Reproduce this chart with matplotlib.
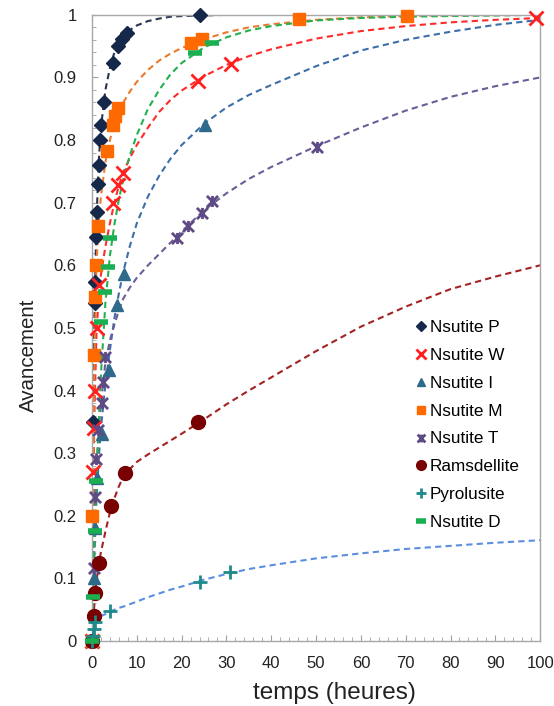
import numpy as np
import matplotlib
matplotlib.use('Agg')
import matplotlib.pyplot as plt
from matplotlib.path import Path
from matplotlib.ticker import MultipleLocator

plt.rcParams['font.family'] = ['Liberation Sans', 'DejaVu Sans']

# --- measured points (time in hours, conversion fraction) ---
p_t = [0, 0.3, 0.6, 0.75, 0.9, 1.1, 1.3, 1.5, 1.8, 2.0, 2.7, 4.7, 5.8, 6.7, 7.8, 24]
p_v = [0, 0.35, 0.54, 0.573, 0.645, 0.685, 0.73, 0.76, 0.80, 0.824, 0.861, 0.923, 0.95, 0.962, 0.971, 1.0]

w_t = [0, 0.2, 0.5, 0.7, 1.1, 1.5, 4.8, 5.9, 7.0, 23.7, 31, 99]
w_v = [0, 0.27, 0.34, 0.40, 0.50, 0.569, 0.70, 0.728, 0.747, 0.894, 0.922, 0.995]

i_t = [0, 0.4, 0.7, 1.1, 2.2, 3.8, 5.5, 7.2, 25.2]
i_v = [0, 0.10, 0.18, 0.26, 0.33, 0.433, 0.537, 0.586, 0.824]

m_t = [0, 0.1, 0.5, 0.6, 1.0, 1.4, 3.3, 4.8, 5.1, 5.9, 22.2, 24.5, 46.2, 70.3]
m_v = [0, 0.20, 0.457, 0.55, 0.60, 0.662, 0.782, 0.824, 0.838, 0.851, 0.955, 0.962, 0.993, 0.998]

t_t = [0, 0.4, 0.7, 1.0, 1.3, 2.2, 2.5, 2.9, 18.9, 21.5, 24.5, 26.7, 50.2]
t_v = [0, 0.117, 0.23, 0.29, 0.337, 0.38, 0.414, 0.454, 0.643, 0.662, 0.683, 0.702, 0.789]

r_t = [0, 0.4, 0.7, 1.5, 4.2, 7.4, 23.7]
r_v = [0, 0.04, 0.077, 0.124, 0.216, 0.268, 0.35]

py_t = [0, 0.2, 0.4, 0.6, 4.0, 24.1, 30.8]
py_v = [0, 0.008, 0.02, 0.03, 0.048, 0.095, 0.111]

d_t = [0, 0.3, 0.6, 1.0, 2.0, 2.9, 3.6, 4.0, 23, 26.7]
d_v = [0, 0.07, 0.175, 0.255, 0.51, 0.558, 0.598, 0.643, 0.939, 0.955]

# --- fitted trend curves on a common time grid ---
fit_t = [0, 0.5, 1, 1.5, 2, 3, 4, 5, 6, 7, 8.5, 10, 12.5, 15, 17.5, 20, 25, 30, 35, 40,
         50, 60, 70, 80, 90, 100]
p_fit = [0, 0.50, 0.67, 0.765, 0.82, 0.88, 0.915, 0.94, 0.955, 0.966, 0.976, 0.983, 0.99,
         0.994, 0.997, 0.998, 0.999, 1, 1, 1, 1, 1, 1, 1, 1, 1]
w_fit = [0, 0.35, 0.49, 0.55, 0.585, 0.63, 0.667, 0.70, 0.727, 0.749, 0.772, 0.792, 0.82,
         0.845, 0.864, 0.879, 0.902, 0.92, 0.934, 0.945, 0.962, 0.974, 0.982, 0.988, 0.992, 0.995]
i_fit = [0, 0.13, 0.225, 0.29, 0.34, 0.41, 0.465, 0.515, 0.555, 0.59, 0.632, 0.667, 0.71,
         0.743, 0.77, 0.792, 0.826, 0.852, 0.872, 0.888, 0.918, 0.943, 0.96, 0.973, 0.984, 0.992]
m_fit = [0, 0.42, 0.60, 0.67, 0.71, 0.765, 0.80, 0.826, 0.845, 0.86, 0.878, 0.893, 0.912,
         0.927, 0.938, 0.947, 0.961, 0.972, 0.98, 0.985, 0.992, 0.996, 0.998, 0.999, 0.9995, 1.0]
t_fit = [0, 0.19, 0.28, 0.335, 0.38, 0.445, 0.48, 0.505, 0.528, 0.547, 0.565, 0.58, 0.6,
         0.618, 0.636, 0.654, 0.688, 0.715, 0.738, 0.757, 0.79, 0.82, 0.847, 0.869, 0.886, 0.90]
r_fit = [0, 0.055, 0.095, 0.122, 0.142, 0.175, 0.205, 0.228, 0.247, 0.262, 0.275, 0.286, 0.298,
         0.309, 0.32, 0.331, 0.354, 0.378, 0.40, 0.421, 0.463, 0.502, 0.534, 0.562, 0.582, 0.60]
py_fit = [0.03, 0.033, 0.036, 0.038, 0.04, 0.043, 0.047, 0.05, 0.053, 0.055, 0.059, 0.063, 0.07,
          0.076, 0.082, 0.087, 0.098, 0.107, 0.115, 0.121, 0.132, 0.14, 0.147, 0.152, 0.157, 0.161]
d_fit = [0, 0.14, 0.25, 0.345, 0.425, 0.54, 0.615, 0.665, 0.705, 0.738, 0.777, 0.808, 0.85,
         0.88, 0.905, 0.923, 0.948, 0.964, 0.975, 0.982, 0.991, 0.995, 0.997, 0.998, 0.999, 1.0]

# Excel-like "star" marker: X with a vertical bar
star = Path([(-1, -1), (1, 1), (-1, 1), (1, -1), (0, -1), (0, 1)],
            [Path.MOVETO, Path.LINETO, Path.MOVETO, Path.LINETO, Path.MOVETO, Path.LINETO])

series = [
    ('Nsutite P', p_t, p_v, p_fit, dict(marker='D', color='#16284a', ms=7.5), '#2a3550'),
    ('Nsutite W', w_t, w_v, w_fit, dict(marker='x', color='#ff2020', ms=10, mew=2), '#ff2a2a'),
    ('Nsutite I', i_t, i_v, i_fit, dict(marker='^', color='#2e6b8a', ms=9), '#3d6ea8'),
    ('Nsutite M', m_t, m_v, m_fit, dict(marker='s', color='#ff6a00', ms=8), '#ea7a2e'),
    ('Nsutite T', t_t, t_v, t_fit, dict(marker=star, color='#5e4a85', ms=8, mew=2), '#6c5c98'),
    ('Ramsdellite', r_t, r_v, r_fit, dict(marker='o', color='#780000', ms=10), '#a32222'),
    ('Pyrolusite', py_t, py_v, py_fit, dict(marker='+', color='#1f8a8a', ms=10, mew=2), '#5b8ee0'),
    ('Nsutite D', d_t, d_v, d_fit, dict(marker='_', color='#1aaf50', ms=10, mew=4), '#22b050'),
]

fig = plt.figure(figsize=(5.54, 7.06), dpi=100)
ax = fig.add_axes([0.166, 0.092, 0.809, 0.887])

# dashed trend lines first, markers on top
for label, tx, vx, fit, mk, lc in series:
    ax.plot(fit_t, fit, linestyle=(0, (3, 2)), color=lc, lw=1.5, zorder=2)

for label, tx, vx, fit, mk, lc in series:
    ax.plot(tx, vx, linestyle='none', label=label, clip_on=False, zorder=3,
            marker=mk['marker'], color=mk['color'], markersize=mk['ms'],
            markeredgewidth=mk.get('mew', 1))

ax.set_xlim(0, 100)
ax.set_ylim(0, 1)
ax.xaxis.set_major_locator(MultipleLocator(10))
ax.xaxis.set_minor_locator(MultipleLocator(2))
ax.yaxis.set_minor_locator(MultipleLocator(0.02))
ax.set_yticks(np.round(np.arange(0, 1.01, 0.1), 1))
ax.set_yticklabels(['0'] + ['%.1f' % v for v in np.arange(0.1, 0.95, 0.1)] + ['1'])

ax.tick_params(which='both', direction='in', color='#a0a0a0', labelsize=12, labelcolor='#222222')
ax.tick_params(which='major', length=4, pad=11)
ax.tick_params(which='minor', length=3)
for s in ax.spines.values():
    s.set_color('#a8a8a8')
    s.set_linewidth(1)

ax.set_xlabel('temps (heures)', fontsize=17.5, color='#222222', labelpad=8)
ax.set_ylabel('Avancement', fontsize=14.8, color='#222222', labelpad=11)
ax.xaxis.label.set_x(0.542)
ax.yaxis.label.set_y(0.457)

ax.legend(loc='center left', bbox_to_anchor=(0.72, 0.345), frameon=False, fontsize=12.3,
          handlelength=0.7, handletextpad=0.2, labelspacing=0.76, borderpad=0,
          borderaxespad=0, markerscale=0.7)

fig.savefig('out.png', dpi=100)
